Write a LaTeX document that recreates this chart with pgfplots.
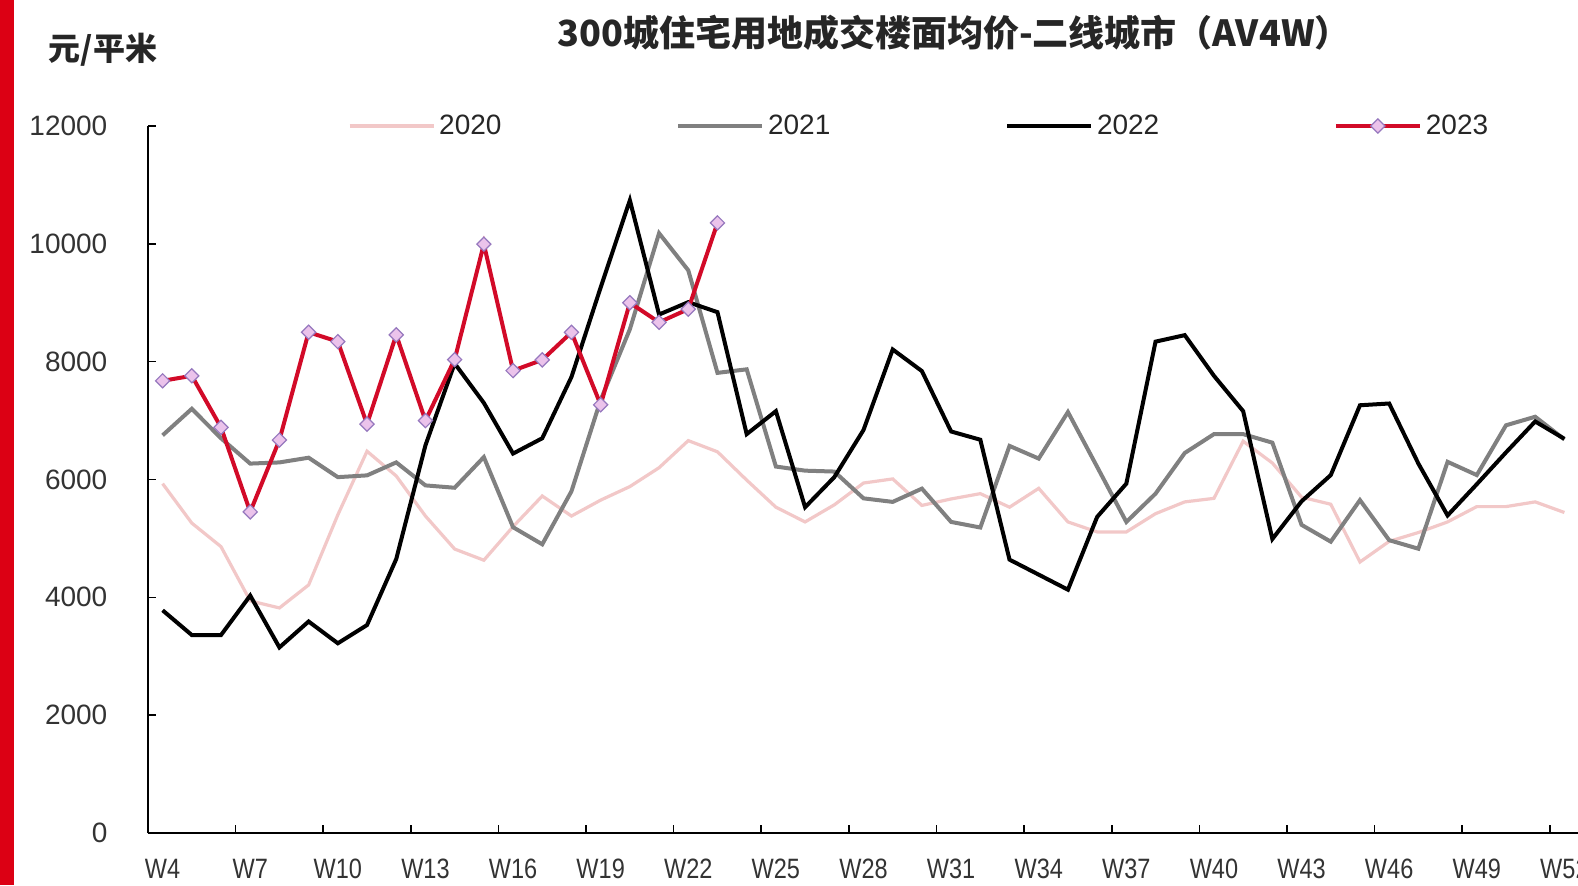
\documentclass[border=0pt]{standalone}
\usepackage{fontspec}
\usepackage{pgfplots}
\pgfplotsset{compat=1.18}
\setmainfont{Liberation Sans}
\newfontfamily\cjk{Noto Sans CJK SC}
\newfontfamily\xfont[FakeStretch=0.84]{Liberation Sans}
\definecolor{c20}{RGB}{242,200,200}
\definecolor{c21}{RGB}{128,128,128}
\definecolor{c23}{RGB}{210,10,40}
\definecolor{mfill}{RGB}{235,195,235}
\definecolor{mdraw}{RGB}{150,120,190}
\definecolor{barred}{RGB}{220,0,20}
\begin{document}
\begin{tikzpicture}
\useasboundingbox (0,0) rectangle (789pt,442.5pt);
\clip (0,0) rectangle (789pt,442.5pt);
\fill[white] (0,0) rectangle (789pt,442.5pt);
\fill[barred] (0,0) rectangle (7pt,442.5pt);
\begin{axis}[
 at={(74pt,26pt)}, anchor=south west,
 width=715.5pt, height=353.5pt, scale only axis,
 xmin=3.5, xmax=52.5, ymin=0, ymax=12000,
 axis lines=left, axis line style={-, line width=0.9pt},
 xtick={3.5,6.5,...,51.5},
 xticklabels={W4,W7,W10,W13,W16,W19,W22,W25,W28,W31,W34,W37,W40,W43,W46,W49,W52},
 ytick={0,2000,...,12000},
 scaled y ticks=false,
 tick align=inside, major tick length=4pt, tick style={black, line width=0.8pt},
 xticklabel style={xshift=7.3pt, yshift=-9.5pt, font=\xfont\fontsize{14}{16}\selectfont, text=black!80},
 yticklabel style={xshift=-16.8pt, font=\fontsize{14}{16}\selectfont, text=black!80},
 /pgf/number format/1000 sep={},
 /pgf/number format/assume math mode=true,
 clip=false,
 legend columns=4,
 legend style={at={(axis description cs:0.1395,1)}, anchor=west, draw=none, fill=none, inner sep=0pt,
   font=\fontsize{14}{16}\selectfont, text=black!85,
   /tikz/every even column/.append style={column sep=85.3pt}},
 legend image code/.code={\draw[mark repeat=2,mark phase=2,#1] plot coordinates {(0pt,0pt) (21pt,0pt) (42pt,0pt)};},
]
\addplot[c20, line width=1.6pt, mark=none] coordinates {(4,5930)(5,5260)(6,4860)(7,3940)(8,3820)(9,4210)(10,5400)(11,6480)(12,6060)(13,5380)(14,4820)(15,4630)(16,5200)(17,5720)(18,5380)(19,5650)(20,5880)(21,6200)(22,6660)(23,6470)(24,5990)(25,5530)(26,5280)(27,5570)(28,5940)(29,6010)(30,5560)(31,5670)(32,5760)(33,5530)(34,5850)(35,5280)(36,5110)(37,5110)(38,5420)(39,5620)(40,5680)(41,6650)(42,6280)(43,5700)(44,5580)(45,4600)(46,4950)(47,5100)(48,5280)(49,5540)(50,5540)(51,5620)(52,5440)};
\addlegendentry{2020}
\addplot[c21, line width=2pt, mark=none] coordinates {(4,6750)(5,7200)(6,6700)(7,6270)(8,6290)(9,6370)(10,6040)(11,6070)(12,6290)(13,5900)(14,5860)(15,6380)(16,5190)(17,4900)(18,5800)(19,7350)(20,8550)(21,10180)(22,9550)(23,7810)(24,7870)(25,6220)(26,6150)(27,6135)(28,5680)(29,5620)(30,5845)(31,5280)(32,5185)(33,6570)(34,6355)(35,7145)(36,6215)(37,5280)(38,5760)(39,6450)(40,6770)(41,6770)(42,6625)(43,5230)(44,4945)(45,5650)(46,4970)(47,4825)(48,6300)(49,6075)(50,6920)(51,7065)(52,6680)};
\addlegendentry{2021}
\addplot[black, line width=2pt, mark=none] coordinates {(4,3780)(5,3360)(6,3360)(7,4030)(8,3150)(9,3590)(10,3220)(11,3530)(12,4650)(13,6580)(14,7970)(15,7300)(16,6440)(17,6700)(18,7740)(19,9260)(20,10740)(21,8800)(22,9010)(23,8840)(24,6770)(25,7160)(26,5530)(27,6040)(28,6840)(29,8207)(30,7840)(31,6815)(32,6675)(33,4640)(34,4385)(35,4130)(36,5365)(37,5930)(38,8340)(39,8450)(40,7760)(41,7160)(42,4990)(43,5630)(44,6075)(45,7260)(46,7290)(47,6270)(48,5390)(49,5920)(50,6460)(51,6985)(52,6690)};
\addlegendentry{2022}
\addplot[c23, line width=2pt, mark=square*, mark size=2.5pt, mark options={rotate=45, fill=mfill, draw=mdraw, line width=0.6pt, solid}] coordinates {(4,7675)(5,7760)(6,6885)(7,5450)(8,6670)(9,8500)(10,8340)(11,6940)(12,8455)(13,7000)(14,8035)(15,9995)(16,7848)(17,8030)(18,8498)(19,7268)(20,9000)(21,8668)(22,8892)(23,10355)};
\addlegendentry{2023}
\end{axis}
\node[font=\cjk\bfseries\fontsize{18}{20}\selectfont, text=black!85] at (477pt,426pt) {300城住宅用地成交楼面均价-二线城市（AV4W）};
\node[font=\cjk\bfseries\fontsize{16}{18}\selectfont, text=black!85] at (51.5pt,417.5pt) {元/平米};
\end{tikzpicture}
\end{document}
